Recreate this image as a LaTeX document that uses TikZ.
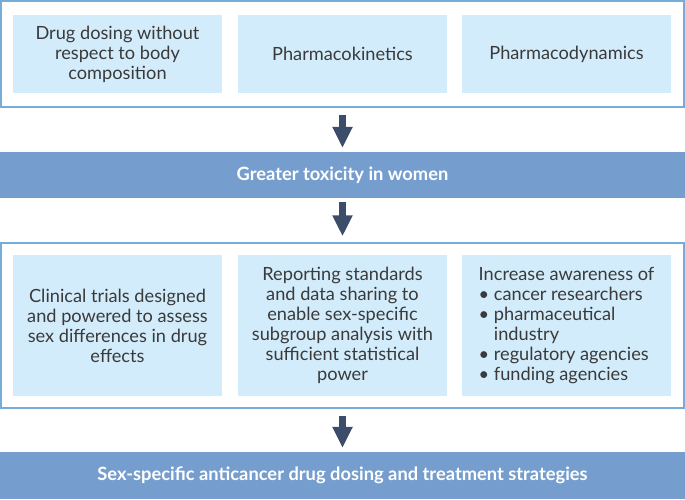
\documentclass[tikz,border=0pt]{standalone}
\usepackage{fontspec}
\setmainfont{Lato}
\usetikzlibrary{arrows.meta, positioning}

\definecolor{boxfill}{HTML}{D3ECFB}
\definecolor{boxline}{HTML}{76ACD8}
\definecolor{bandfill}{HTML}{759ECE}
\definecolor{arrowcol}{HTML}{3C4D6A}
\definecolor{textcol}{HTML}{3A3A3A}

\begin{document}
\begin{tikzpicture}[x=1pt, y=-1pt,
		outerbox/.style={draw=boxline, line width=1.5pt, minimum width=683pt},
		innerbox/.style={fill=boxfill, minimum width=209pt, align=center, text=textcol,
			inner sep=0pt, font=\fontsize{18.2}{20}\selectfont},
		band/.style={fill=bandfill, minimum width=685pt, text=white,
			font=\fontsize{18.3}{20}\selectfont\bfseries},
		flow/.style={-{Triangle[width=19pt, length=21pt]}, line width=7.5pt, draw=arrowcol}]
		\useasboundingbox (0,0) rectangle (685,499);

		% causes
		\node[outerbox, minimum height=106pt] (causes) at (342.5,54) {};
		\node[innerbox, minimum height=78pt] (dosing) at (117.5,54) {Drug dosing without\\respect to body\\composition};
		\node[innerbox, minimum height=78pt] (pk) at (342.5,54) {Pharmacokinetics};
		\node[innerbox, minimum height=78pt] (pd) at (566.5,54) {Pharmacodynamics};

		\node[band, minimum height=46pt] (toxicity) at (342.5,175) {Greater toxicity in women};

		% measures
		\node[outerbox, minimum height=165pt] (measures) at (342.5,325.5) {};
		\node[innerbox, minimum height=141pt] (trials) at (117.5,325.5) {Clinical trials designed\\and powered to assess\\sex differences in drug\\effects};
		\node[innerbox, minimum height=141pt] (reporting) at (342.5,325.5) {Reporting standards\\and data sharing to\\enable sex-specific\\subgroup analysis with\\sufficient statistical\\power};
		\node[innerbox, minimum height=141pt, align=left] (awareness) at (566.5,325.5) {Increase awareness of\\
			\textbullet\ cancer researchers\\
			\textbullet\ pharmaceutical\\
			\phantom{\textbullet\ }industry\\
			\textbullet\ regulatory agencies\\
			\textbullet\ funding agencies};

		\node[band, minimum height=47pt] (strategies) at (342.5,475.5) {Sex-specific anticancer drug dosing and treatment strategies};

		\draw[flow, shorten <=7pt, shorten >=4pt] (causes) -- (toxicity);
		\draw[flow, shorten <=4pt, shorten >=6pt] (toxicity) -- (measures);
		\draw[flow, shorten <=7pt, shorten >=4pt] (measures) -- (strategies);
	\end{tikzpicture}
\end{document}
